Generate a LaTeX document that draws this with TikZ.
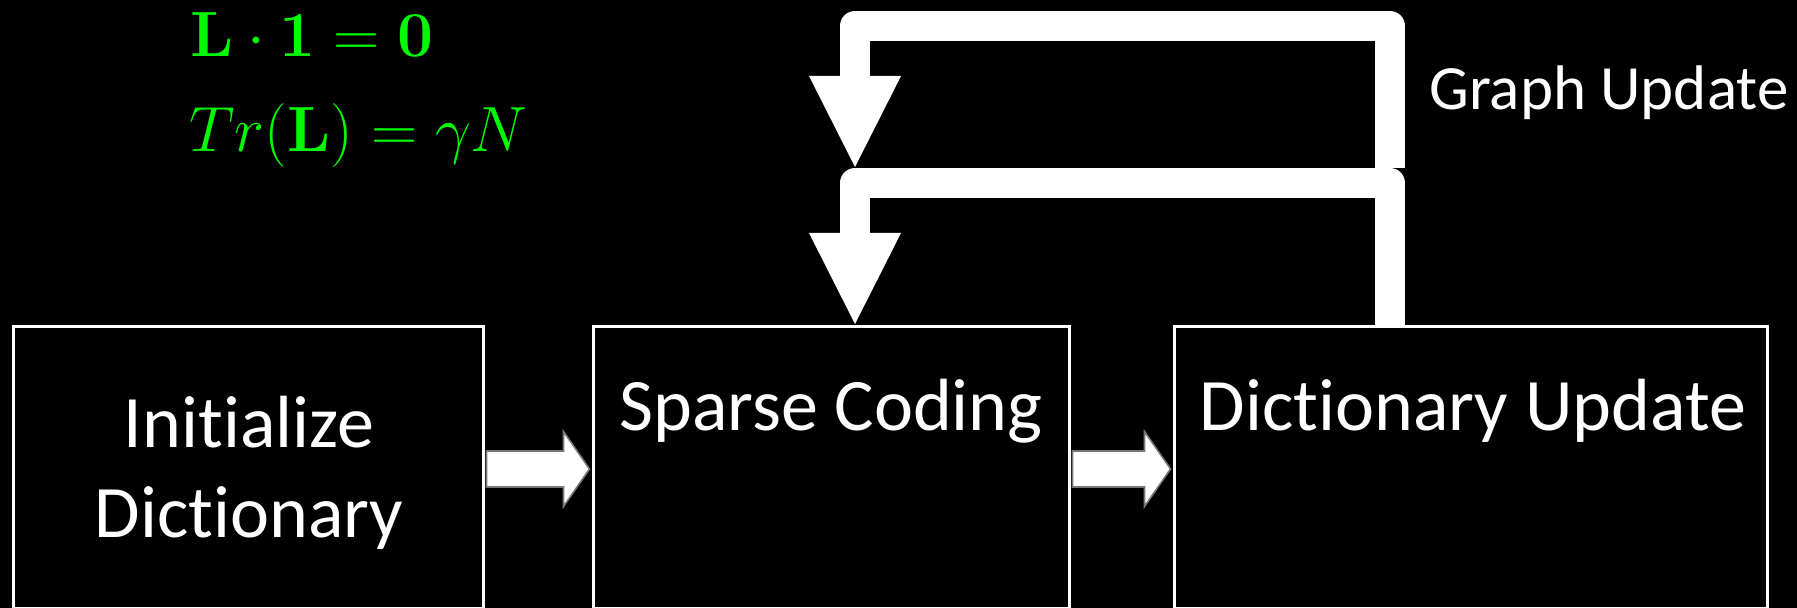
\documentclass[tikz,border=0pt]{standalone}
\usepackage{fix-cm}
\usepackage[no-math]{fontspec}
\setmainfont{Carlito}[Ligatures=NoCommon]
\usetikzlibrary{calc}
\definecolor{eqgreen}{RGB}{0,250,0}
\definecolor{arrowrim}{RGB}{120,120,120}

% white block arrow between two stage boxes, on the row given by (arrowrow)
\newcommand\BlockArrow[2]{%
  \coordinate (s) at ($(#1.east |- arrowrow)+(3.5,0)$);
  \coordinate (t) at ($(#2.west |- arrowrow)+(-3.5,0)$);
  \draw[blockarrow] ($(s)+(0,-18)$) -- ($(t)+(-26,-18)$) -- ($(t)+(-26,-37.5)$)
    -- (t) -- ($(t)+(-26,37.5)$) -- ($(t)+(-26,18)$) -- ($(s)+(0,18)$) -- cycle;}

\begin{document}
\begin{tikzpicture}[x=0.5pt,y=-0.5pt,
  stage/.style={draw=white, line width=1.5pt, fill=black, inner sep=0pt, outer sep=0pt},
  stagetext/.style={text=white, font=\fontsize{37pt}{45pt}\selectfont, inner sep=0pt, anchor=base, align=center},
  feedback/.style={draw=white, line width=15pt, line cap=butt, line join=round},
  feedhead/.style={fill=white},
  blockarrow/.style={fill=white, draw=arrowrim, line width=0.8pt, line join=miter},
  eq/.style={text=eqgreen, font=\fontsize{32pt}{38pt}\selectfont, inner sep=0pt, anchor=base west},
  note/.style={text=white, font=\fontsize{31.5pt}{37pt}\selectfont, inner sep=0pt, anchor=base west}]

\fill[black] (0,0) rectangle (1797,608);
\useasboundingbox (0,0) rectangle (1797,608);

% the three stages
\node[stage, minimum width=235pt, minimum height=140.5pt] (init) at (248,467.5) {};
\node[stage, minimum width=238pt, minimum height=140.5pt] (sparse) at (831,467.5) {};
\node[stage, minimum width=296.5pt, minimum height=140.5pt] (dictup) at (1470.5,467.5) {};

% two-line label: the base anchor sits on the last line
\node[stagetext] (initlbl) at (249,538) {Initialize\\Dictionary};
\node[stagetext] (sparselbl) at (831,430) {Sparse Coding};
\node[stagetext] (dictlbl) at (1473,430) {Dictionary Update};

% forward arrows
\coordinate (arrowrow) at (0,469);
\BlockArrow{init}{sparse}
\BlockArrow{sparse}{dictup}

% feedback loops
\coordinate (barx) at (1390,0);
\coordinate (dropx) at (855,0);
\coordinate (uppertop) at (0,26);
\coordinate (lowertop) at (0,183);
\coordinate (upperhead) at (0,76);
\coordinate (lowerhead) at (0,233);
\coordinate (joint) at (1390,168);

\draw[feedback] (dictup.north -| barx) -- (barx |- lowertop) -- (dropx |- lowertop) -- ($(dropx |- lowerhead)+(0,1)$);
\fill[feedhead] ($(dropx |- lowerhead)+(-46,0)$) -- ($(dropx |- lowerhead)+(46,0)$) -- ($(sparse.north -| dropx)+(0,-3)$) -- cycle;

\draw[feedback] (joint) -- (barx |- uppertop) -- (dropx |- uppertop) -- ($(dropx |- upperhead)+(0,1)$);
\fill[feedhead] ($(dropx |- upperhead)+(-46,0)$) -- ($(dropx |- upperhead)+(46,0)$) -- ($(dropx |- lowertop)+(0,-16)$) -- cycle;

\node[note] (graphlbl) at (1429,110) {Graph Update};

% constraints
\node[eq] (lap) at (190,57) {$\mathbf{L}\cdot\mathbf{1}=\mathbf{0}$};
\node[eq] (trace) at (189,152) {$Tr(\mathbf{L})=\gamma N$};
\end{tikzpicture}
\end{document}
